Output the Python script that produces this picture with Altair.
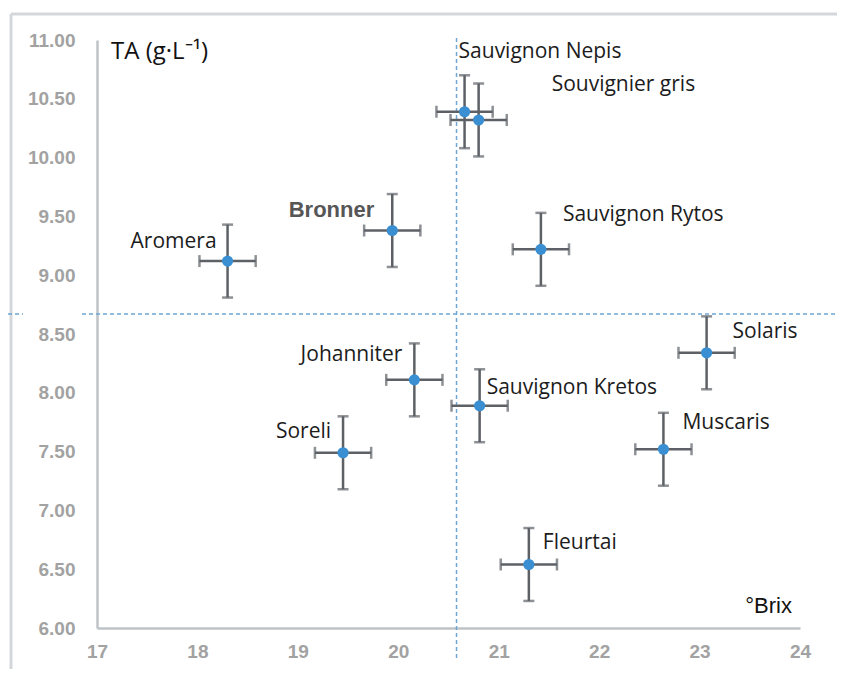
import altair as alt
import pandas as pd

# ---- data ----
varieties = ["Sauvignon Nepis", "Souvignier gris", "Bronner", "Aromera",
             "Sauvignon Rytos", "Solaris", "Muscaris", "Johanniter",
             "Sauvignon Kretos", "Soreli", "Fleurtai"]
brix = [20.66, 20.80, 19.94, 18.30, 21.42, 23.07, 22.64, 20.16, 20.81, 19.45, 21.30]
ta = [10.39, 10.32, 9.38, 9.12, 9.22, 8.34, 7.52, 8.11, 7.89, 7.49, 6.54]
brix_sd = [0.28, 0.28, 0.28, 0.28, 0.28, 0.28, 0.28, 0.28, 0.28, 0.28, 0.28]
ta_sd = [0.31, 0.31, 0.31, 0.31, 0.31, 0.31, 0.31, 0.31, 0.31, 0.31, 0.31]
x_ticks = [17, 18, 19, 20, 21, 22, 23, 24]
y_ticks = [6.0, 6.5, 7.0, 7.5, 8.0, 8.5, 9.0, 9.5, 10.0, 10.5, 11.0]
brix_mean_line = [20.58]
ta_mean_line = [8.67]
y_title = ["TA (g·L⁻¹)"]
x_title = ["°Brix"]

# label placement (pixel offsets from point, alignment)
label_style = {
    "Sauvignon Nepis": (-6, -60, "left"),
    "Souvignier gris": (73, -35, "left"),
    "Bronner": (-18, -21, "right"),
    "Aromera": (-11, -19, "right"),
    "Sauvignon Rytos": (22, -34, "left"),
    "Solaris": (26, -21, "left"),
    "Muscaris": (19, -26, "left"),
    "Johanniter": (-12, -25, "right"),
    "Sauvignon Kretos": (7, -18, "left"),
    "Soreli": (-12, -21, "right"),
    "Fleurtai": (14, -21, "left"),
}

df = pd.DataFrame({"variety": varieties, "brix": brix, "ta": ta,
                   "bsd": brix_sd, "tsd": ta_sd})
df["blo"] = df["brix"] - df["bsd"]
df["bhi"] = df["brix"] + df["bsd"]
df["tlo"] = df["ta"] - df["tsd"]
df["thi"] = df["ta"] + df["tsd"]

xs = alt.Scale(domain=[17, 24], nice=False, zero=False)
ys = alt.Scale(domain=[6, 11], nice=False, zero=False)

xaxis = alt.Axis(values=x_ticks, format="d", title=None, ticks=False, grid=False,
                 labelFlush=False, labelPadding=14, labelFontSize=19,
                 labelFont="Liberation Sans", labelFontWeight="bold",
                 labelColor="#a2a2a2", domainColor="#bfc3c7", domainWidth=2.5)
yaxis = alt.Axis(values=y_ticks, format=".2f", title=None, ticks=False, grid=False,
                 labelFlush=False, labelPadding=22, labelFontSize=19,
                 labelFont="Liberation Sans", labelFontWeight="bold",
                 labelColor="#a2a2a2", domainColor="#bfc3c7", domainWidth=2.5)


def X(field):
    return alt.X(field, type="quantitative", scale=xs, axis=xaxis)


def Y(field):
    return alt.Y(field, type="quantitative", scale=ys, axis=yaxis)


one = pd.DataFrame({"a": [0]})
frame_color = "#d3d7db"
frame_top = alt.Chart(one).mark_rule(color=frame_color, strokeWidth=3).encode(
    x=alt.value(-86), x2=alt.value(760), y=alt.value(-26))
frame_left = alt.Chart(one).mark_rule(color=frame_color, strokeWidth=3).encode(
    x=alt.value(-86), y=alt.value(-26), y2=alt.value(700))

dash_color = "#6fa6d4"
hdf = pd.DataFrame({"ta": ta_mean_line})
hline_a = alt.Chart(hdf).mark_rule(color=dash_color, strokeWidth=1.5, strokeDash=[4, 3]).encode(
    y=Y("ta"), x=alt.value(-89), x2=alt.value(-74))
hline_b = alt.Chart(hdf).mark_rule(color=dash_color, strokeWidth=1.5, strokeDash=[4, 3]).encode(
    y=Y("ta"), x=alt.value(-15), x2=alt.value(760))
vdf = pd.DataFrame({"brix": brix_mean_line})
vline = alt.Chart(vdf).mark_rule(color=dash_color, strokeWidth=1.5, strokeDash=[4, 3]).encode(
    x=X("brix"), y=alt.value(-2), y2=alt.value(618))

err_color = "#5d6166"
base = alt.Chart(df)
xerr = base.mark_rule(color=err_color, strokeWidth=2.5).encode(x=X("blo"), x2="bhi", y=Y("ta"))
yerr = base.mark_rule(color=err_color, strokeWidth=2.5).encode(y=Y("tlo"), y2="thi", x=X("brix"))
xcap_l = base.mark_tick(color=err_color, orient="vertical", size=12, thickness=2.5).encode(x=X("blo"), y=Y("ta"))
xcap_r = base.mark_tick(color=err_color, orient="vertical", size=12, thickness=2.5).encode(x=X("bhi"), y=Y("ta"))
ycap_l = base.mark_tick(color=err_color, orient="horizontal", size=11, thickness=2.5).encode(x=X("brix"), y=Y("tlo"))
ycap_h = base.mark_tick(color=err_color, orient="horizontal", size=11, thickness=2.5).encode(x=X("brix"), y=Y("thi"))

points = base.mark_circle(color="#3a8fd3", opacity=1, size=125).encode(x=X("brix"), y=Y("ta"))

labels = []
for name, (dx, dy, align) in label_style.items():
    sub = df[df["variety"] == name]
    if name == "Bronner":
        mk = alt.Chart(sub).mark_text(align=align, baseline="middle", dx=dx, dy=dy,
                                      font="Liberation Sans", fontSize=22, fontWeight="bold",
                                      color="#565656")
    else:
        mk = alt.Chart(sub).mark_text(align=align, baseline="middle", dx=dx, dy=dy,
                                      font="Open Sans", fontSize=21, color="#1c1c1c")
    labels.append(mk.encode(x=X("brix"), y=Y("ta"), text="variety:N"))

ytitle = alt.Chart(pd.DataFrame({"brix": [17.14], "ta": [10.90], "t": y_title})).mark_text(
    align="left", baseline="middle", font="Open Sans", fontSize=24, color="#111111"
).encode(x=X("brix"), y=Y("ta"), text="t:N")
xtitle = alt.Chart(pd.DataFrame({"brix": [23.92], "ta": [6.19], "t": x_title})).mark_text(
    align="right", baseline="middle", font="Liberation Sans", fontSize=22, color="#111111"
).encode(x=X("brix"), y=Y("ta"), text="t:N")

chart = alt.layer(
    frame_top, frame_left, hline_a, hline_b, vline,
    xerr, yerr, xcap_l, xcap_r, ycap_l, ycap_h, points, *labels, ytitle, xtitle
).properties(
    width=703, height=588,
    autosize=alt.AutoSizeParams(type="none"),
    padding={"left": 89, "top": 32, "right": 37, "bottom": 41},
    background="white",
).configure_view(stroke=None)

chart.save("out.html", embed_options={"renderer": "svg", "actions": False})
